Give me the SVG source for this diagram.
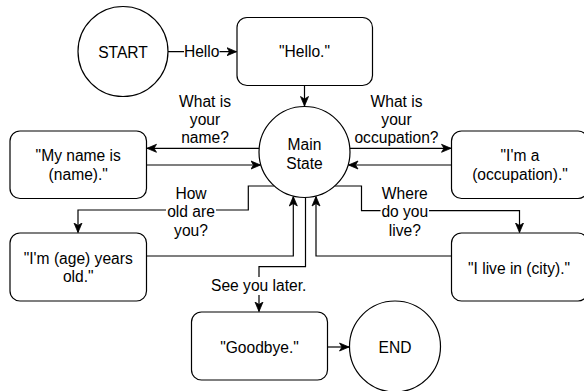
<svg xmlns="http://www.w3.org/2000/svg" width="584" height="391" viewBox="0 0 584 391">
<style>
.shape{fill:#fff;stroke:#000;stroke-width:1.2}
.edge{fill:none;stroke:#000;stroke-width:1.2}
text{font-family:"Liberation Sans",Arial,sans-serif;font-size:15.6px;fill:#000;text-anchor:middle}
.lbg{fill:#fff;stroke:none}
</style>
<defs>
<marker id="arr" markerUnits="userSpaceOnUse" markerWidth="11" markerHeight="10" refX="10" refY="5" orient="auto">
<path d="M0.5,1 L10,5 L0.5,9 L3,5 z" fill="#000" stroke="#000" stroke-width="0.8"/>
</marker>
</defs>
<rect width="584" height="391" fill="#fff"/>
<g id="connectors">
<path class="edge" d="M168,51.7 H236.5" marker-end="url(#arr)"/>
<path class="edge" d="M304.5,85.5 V106" marker-end="url(#arr)"/>
<path class="edge" d="M259.2,148.3 H147" marker-end="url(#arr)"/>
<path class="edge" d="M146.5,165 H260.5" marker-end="url(#arr)"/>
<path class="edge" d="M349.8,148.3 H451" marker-end="url(#arr)"/>
<path class="edge" d="M451.5,165 H348.5" marker-end="url(#arr)"/>
<path class="edge" d="M274.3,186 H248.3 V210 H78 V232.5" marker-end="url(#arr)"/>
<path class="edge" d="M146.5,256 H293.3 V196.5" marker-end="url(#arr)"/>
<path class="edge" d="M305.5,197.5 V266.7 H259 V311.5" marker-end="url(#arr)"/>
<path class="edge" d="M451.5,256 H316 V196.5" marker-end="url(#arr)"/>
<path class="edge" d="M334.7,186 H361.5 V210.7 H519.5 V232.5" marker-end="url(#arr)"/>
<path class="edge" d="M327.5,347 H349" marker-end="url(#arr)"/>
<rect class="lbg" x="184" y="43" width="35.5" height="17"/>
<text x="201.7" y="57.3">Hello</text>
<text x="205" y="106.7">What is</text>
<text x="205" y="125">your</text>
<text x="205" y="143.3">name?</text>
<text x="396.5" y="106.7">What is</text>
<text x="396.5" y="125">your</text>
<text x="396.5" y="143.3">occupation?</text>
<rect class="lbg" x="166" y="186" width="50" height="54"/>
<text x="191" y="199">How</text>
<text x="191" y="217.3">old are</text>
<text x="191" y="235.6">you?</text>
<rect class="lbg" x="380.5" y="186" width="48.5" height="54"/>
<text x="404.8" y="199">Where</text>
<text x="404.8" y="217.3">do you</text>
<text x="404.8" y="235.6">live?</text>
<rect class="lbg" x="210" y="277" width="97.5" height="18"/>
<text x="258.7" y="291">See you later.</text>
</g>
<g id="start">
<circle class="shape" cx="123" cy="51.5" r="45"/>
<text x="123" y="58.3">START</text>
</g>
<g id="hello">
<rect class="shape" x="237" y="17.5" width="135.5" height="68" rx="10"/>
<text x="304.5" y="57.3">"Hello."</text>
</g>
<g id="main-state">
<circle class="shape" cx="304.5" cy="152" r="45.5"/>
<text x="304.5" y="150.3">Main</text>
<text x="304.5" y="168.6">State</text>
</g>
<g id="name">
<rect class="shape" x="10" y="131" width="136.5" height="67.5" rx="10"/>
<text x="78.25" y="161.4">"My name is</text>
<text x="78.25" y="179.7">(name)."</text>
</g>
<g id="occupation">
<rect class="shape" x="451.5" y="131" width="136.5" height="67.5" rx="10"/>
<text x="520" y="161.4">"I'm a</text>
<text x="520" y="179.7">(occupation)."</text>
</g>
<g id="age">
<rect class="shape" x="10" y="233" width="136.5" height="68" rx="10"/>
<text x="78.25" y="264">"I'm (age) years</text>
<text x="78.25" y="282.3">old."</text>
</g>
<g id="city">
<rect class="shape" x="451.5" y="233" width="136.5" height="68" rx="10"/>
<text x="519" y="273.5">"I live in (city)."</text>
</g>
<g id="goodbye">
<rect class="shape" x="191.5" y="312" width="136" height="68" rx="10"/>
<text x="259.5" y="352.6">"Goodbye."</text>
</g>
<g id="end">
<circle class="shape" cx="395" cy="346.5" r="45.5"/>
<text x="395" y="352.8">END</text>
</g>
</svg>
